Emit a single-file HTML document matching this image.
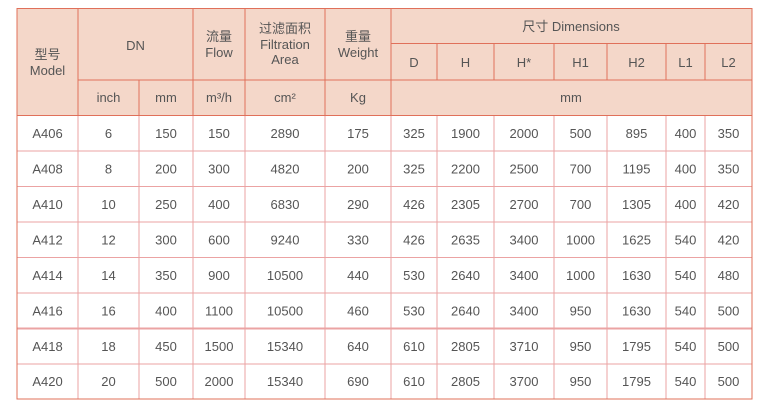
<!DOCTYPE html>
<html><head><meta charset="utf-8"><style>
html,body{margin:0;padding:0;background:#fff;width:771px;height:412px;overflow:hidden}
svg text{font-family:"Liberation Sans","Noto Sans CJK SC",sans-serif;fill:#555;font-size:13px;text-anchor:middle}
</style></head><body>
<svg width="771" height="412" viewBox="0 0 771 412" xmlns="http://www.w3.org/2000/svg">
<rect x="17" y="8.5" width="735" height="107" fill="#f4d7c9"/>
<g stroke="#eba3a3" stroke-width="1" fill="none">
<line x1="17" y1="151" x2="752" y2="151"/>
<line x1="17" y1="186.5" x2="752" y2="186.5"/>
<line x1="17" y1="222" x2="752" y2="222"/>
<line x1="17" y1="257.5" x2="752" y2="257.5"/>
<line x1="17" y1="293" x2="752" y2="293"/>
<line x1="17" y1="328.5" x2="752" y2="328.5" stroke-width="2"/>
<line x1="17" y1="364" x2="752" y2="364"/>
<g>
<line x1="78" y1="115" x2="78" y2="399"/><line x1="139" y1="115" x2="139" y2="399"/>
<line x1="193" y1="115" x2="193" y2="399"/><line x1="245" y1="115" x2="245" y2="399"/>
<line x1="325" y1="115" x2="325" y2="399"/><line x1="391" y1="115" x2="391" y2="399"/>
<line x1="437" y1="115" x2="437" y2="399"/><line x1="494" y1="115" x2="494" y2="399"/>
<line x1="554" y1="115" x2="554" y2="399"/><line x1="607" y1="115" x2="607" y2="399"/>
<line x1="666" y1="115" x2="666" y2="399"/><line x1="705" y1="115" x2="705" y2="399"/>
</g>
</g>
<g stroke="#e0705a" stroke-width="1" fill="none">
<rect x="17" y="8.5" width="735" height="390.5"/>
<line x1="17" y1="115.5" x2="752" y2="115.5"/>
<line x1="78" y1="80" x2="391" y2="80"/>
<line x1="391" y1="43.5" x2="752" y2="43.5"/>
<line x1="391" y1="80" x2="752" y2="80"/>
<line x1="78" y1="8" x2="78" y2="115"/><line x1="139" y1="80" x2="139" y2="115"/>
<line x1="193" y1="8" x2="193" y2="115"/><line x1="245" y1="8" x2="245" y2="115"/>
<line x1="325" y1="8" x2="325" y2="115"/><line x1="391" y1="8" x2="391" y2="115"/>
<line x1="437" y1="43" x2="437" y2="80"/><line x1="494" y1="43" x2="494" y2="80"/>
<line x1="554" y1="43" x2="554" y2="80"/><line x1="607" y1="43" x2="607" y2="80"/>
<line x1="666" y1="43" x2="666" y2="80"/><line x1="705" y1="43" x2="705" y2="80"/>
</g>
<text x="47.5" y="59">型号</text><text x="47.5" y="75">Model</text>
<text x="135.5" y="50">DN</text>
<text x="219" y="41">流量</text><text x="219" y="57">Flow</text>
<text x="285" y="33">过滤面积</text><text x="285" y="49">Filtration</text><text x="285" y="64">Area</text>
<text x="358" y="41">重量</text><text x="358" y="57">Weight</text>
<text x="571" y="31">尺寸 Dimensions</text>
<text x="414" y="67">D</text><text x="465.5" y="67">H</text><text x="524" y="67">H*</text>
<text x="580.5" y="67">H1</text><text x="636.5" y="67">H2</text><text x="685.5" y="67">L1</text><text x="728.5" y="67">L2</text>
<text x="108.5" y="102">inch</text><text x="166" y="102">mm</text><text x="219" y="102">m³/h</text>
<text x="285" y="102">cm²</text><text x="358" y="102">Kg</text><text x="571" y="102">mm</text>
<g id="rows">
<text x="47.5" y="138">A406</text><text x="108.5" y="138">6</text><text x="166" y="138">150</text><text x="219" y="138">150</text><text x="285" y="138">2890</text><text x="358" y="138">175</text><text x="414" y="138">325</text><text x="465.5" y="138">1900</text><text x="524" y="138">2000</text><text x="580.5" y="138">500</text><text x="636.5" y="138">895</text><text x="685.5" y="138">400</text><text x="728.5" y="138">350</text>
<text x="47.5" y="173.5">A408</text><text x="108.5" y="173.5">8</text><text x="166" y="173.5">200</text><text x="219" y="173.5">300</text><text x="285" y="173.5">4820</text><text x="358" y="173.5">200</text><text x="414" y="173.5">325</text><text x="465.5" y="173.5">2200</text><text x="524" y="173.5">2500</text><text x="580.5" y="173.5">700</text><text x="636.5" y="173.5">1195</text><text x="685.5" y="173.5">400</text><text x="728.5" y="173.5">350</text>
<text x="47.5" y="209">A410</text><text x="108.5" y="209">10</text><text x="166" y="209">250</text><text x="219" y="209">400</text><text x="285" y="209">6830</text><text x="358" y="209">290</text><text x="414" y="209">426</text><text x="465.5" y="209">2305</text><text x="524" y="209">2700</text><text x="580.5" y="209">700</text><text x="636.5" y="209">1305</text><text x="685.5" y="209">400</text><text x="728.5" y="209">420</text>
<text x="47.5" y="244.5">A412</text><text x="108.5" y="244.5">12</text><text x="166" y="244.5">300</text><text x="219" y="244.5">600</text><text x="285" y="244.5">9240</text><text x="358" y="244.5">330</text><text x="414" y="244.5">426</text><text x="465.5" y="244.5">2635</text><text x="524" y="244.5">3400</text><text x="580.5" y="244.5">1000</text><text x="636.5" y="244.5">1625</text><text x="685.5" y="244.5">540</text><text x="728.5" y="244.5">420</text>
<text x="47.5" y="280">A414</text><text x="108.5" y="280">14</text><text x="166" y="280">350</text><text x="219" y="280">900</text><text x="285" y="280">10500</text><text x="358" y="280">440</text><text x="414" y="280">530</text><text x="465.5" y="280">2640</text><text x="524" y="280">3400</text><text x="580.5" y="280">1000</text><text x="636.5" y="280">1630</text><text x="685.5" y="280">540</text><text x="728.5" y="280">480</text>
<text x="47.5" y="315.5">A416</text><text x="108.5" y="315.5">16</text><text x="166" y="315.5">400</text><text x="219" y="315.5">1100</text><text x="285" y="315.5">10500</text><text x="358" y="315.5">460</text><text x="414" y="315.5">530</text><text x="465.5" y="315.5">2640</text><text x="524" y="315.5">3400</text><text x="580.5" y="315.5">950</text><text x="636.5" y="315.5">1630</text><text x="685.5" y="315.5">540</text><text x="728.5" y="315.5">500</text>
<text x="47.5" y="351">A418</text><text x="108.5" y="351">18</text><text x="166" y="351">450</text><text x="219" y="351">1500</text><text x="285" y="351">15340</text><text x="358" y="351">640</text><text x="414" y="351">610</text><text x="465.5" y="351">2805</text><text x="524" y="351">3710</text><text x="580.5" y="351">950</text><text x="636.5" y="351">1795</text><text x="685.5" y="351">540</text><text x="728.5" y="351">500</text>
<text x="47.5" y="386">A420</text><text x="108.5" y="386">20</text><text x="166" y="386">500</text><text x="219" y="386">2000</text><text x="285" y="386">15340</text><text x="358" y="386">690</text><text x="414" y="386">610</text><text x="465.5" y="386">2805</text><text x="524" y="386">3700</text><text x="580.5" y="386">950</text><text x="636.5" y="386">1795</text><text x="685.5" y="386">540</text><text x="728.5" y="386">500</text>
</g>
</svg>
</body></html>
